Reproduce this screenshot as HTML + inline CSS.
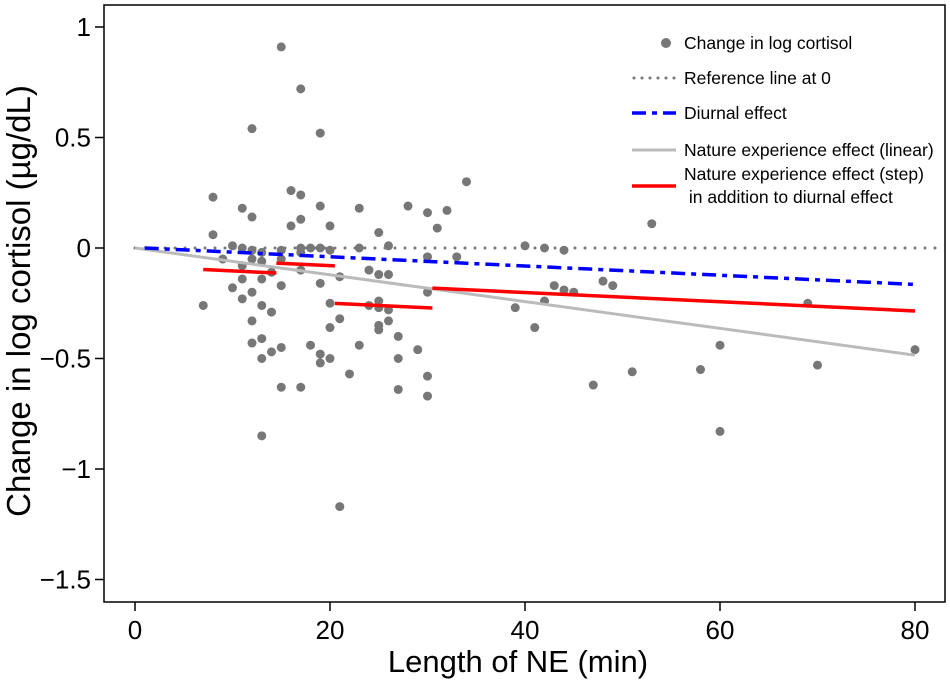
<!DOCTYPE html>
<html><head><meta charset="utf-8"><style>
body{margin:0;background:#fff;}
svg{display:block;font-family:"Liberation Sans",Arial,sans-serif;}
</style></head><body>
<svg id="chart" width="950" height="681"></svg>
<script>
const neLength=[15,17,12,19,8,11,12,16,17,17,16,19,20,8,10,11,12,13,15,17,17,18,19,20,
9,11,12,13,14,15,17,11,13,10,12,15,19,21,7,11,13,14,12,20,20,21,13,12,15,14,13,18,19,19,20,22,15,17,13,21,
34,23,28,30,32,31,25,23,26,30,33,24,25,26,30,24,25,25,26,26,25,25,27,23,29,27,30,27,30,
40,42,44,39,41,42,43,44,45,48,49,47,51,53,58,60,60,69,70,80];
const logChange=[0.91,0.72,0.54,0.52,0.23,0.18,0.14,0.26,0.24,0.13,0.10,0.19,0.10,0.06,0.01,0,-0.01,-0.02,-0.01,0,-0.02,0,0,-0.01,
-0.05,-0.08,-0.05,-0.06,-0.11,-0.05,-0.10,-0.14,-0.14,-0.18,-0.2,-0.17,-0.16,-0.13,-0.26,-0.23,-0.26,-0.29,-0.33,-0.25,-0.36,-0.32,-0.41,-0.43,-0.45,-0.47,-0.5,-0.44,-0.48,-0.52,-0.5,-0.57,-0.63,-0.63,-0.85,-1.17,
0.3,0.18,0.19,0.16,0.17,0.09,0.07,0,0.01,-0.04,-0.04,-0.1,-0.12,-0.12,-0.2,-0.26,-0.24,-0.27,-0.28,-0.33,-0.35,-0.37,-0.4,-0.44,-0.46,-0.5,-0.58,-0.64,-0.67,
0.01,0,-0.01,-0.27,-0.36,-0.24,-0.17,-0.19,-0.2,-0.15,-0.17,-0.62,-0.56,0.11,-0.55,-0.44,-0.83,-0.25,-0.53,-0.46];
const diurnalX=[1,80], diurnalY=[0,-0.165];
const linearX=[0,80], linearY=[0,-0.485];
const stepStart=[7,14.5,20.5,30.5], stepEnd=[14.5,20.5,30.5,80], stepLevel=[-0.085,-0.04,-0.21,-0.12];
const xTicks=[0,20,40,60,80];
const yTicks=[1,0.5,0,-0.5,-1,-1.5];
const yTickLabels=["1","0.5","0","\u22120.5","\u22121","\u22121.5"];

const NS="http://www.w3.org/2000/svg";
const svg=document.getElementById('chart');
const X=v=>135+v*9.75, Y=v=>248-v*221;
function mk(t,a,p){const e=document.createElementNS(NS,t);for(const k in a)e.setAttribute(k,a[k]);(p||svg).appendChild(e);return e;}
const dslope=(diurnalY[1]-diurnalY[0])/(diurnalX[1]-diurnalX[0]);
const dAt=x=>diurnalY[0]+dslope*(x-diurnalX[0]);

let frame=mk('rect',{x:104,y:5,width:841,height:597,fill:'none',stroke:'#000','stroke-width':1.5});



xTicks.forEach(t=>{
 let l=mk('line',{x1:X(t),x2:X(t),y1:602,y2:611,stroke:'#000','stroke-width':1.5});
 
 
 let tx=mk('text',{x:X(t),y:639,'font-size':26,'text-anchor':'middle'});tx.textContent=t;
 
 
});
yTicks.forEach((t,i)=>{
 let l=mk('line',{x1:95,x2:104,y1:Y(t),y2:Y(t),stroke:'#000','stroke-width':1.5});
 
 
 let tx=mk('text',{x:91,y:Y(t)+9,'font-size':26,'text-anchor':'end'});tx.textContent=yTickLabels[i];
 
 
});
let xt=mk('text',{x:518,y:672,'font-size':31,'text-anchor':'middle'});xt.textContent='Length of NE (min)';


let yt=mk('text',{x:0,y:0,'font-size':33,'text-anchor':'middle',transform:'translate(30,301) rotate(-90)'});yt.textContent='Change in log cortisol (\u00b5g/dL)';



let ref=mk('line',{x1:X(0),x2:944,y1:Y(0),y2:Y(0),stroke:'#777','stroke-width':3,'stroke-dasharray':'0 10','stroke-linecap':'round'});



neLength.forEach((x,i)=>{
 let c=mk('circle',{cx:X(x),cy:Y(logChange[i]),r:4.5,fill:'#777'});
 
 
});

let lin=mk('line',{x1:X(linearX[0]),y1:Y(linearY[0]),x2:X(linearX[1]),y2:Y(linearY[1]),stroke:'#bbb','stroke-width':3});


let di=mk('line',{x1:X(diurnalX[0]),y1:Y(diurnalY[0]),x2:X(diurnalX[1]),y2:Y(diurnalY[1]),stroke:'#00f','stroke-width':3.5,'stroke-dasharray':'14 6 5 6'});


stepStart.forEach((s,i)=>{
 const e=stepEnd[i];
 let l=mk('line',{x1:X(s),y1:Y(stepLevel[i]+dAt(s)),x2:X(e),y2:Y(stepLevel[i]+dAt(e)),stroke:'#f00','stroke-width':3.5});
 
 
});

const lg=mk('g',{});


mk('circle',{cx:666,cy:43,r:5,fill:'#777'},lg);
mk('line',{x1:634,x2:676,y1:78,y2:78,stroke:'#777','stroke-width':3,'stroke-dasharray':'0 8','stroke-linecap':'round'},lg);
mk('line',{x1:632,x2:676,y1:113,y2:113,stroke:'#00f','stroke-width':3.5,'stroke-dasharray':'14 6 5 6'},lg);
mk('line',{x1:632,x2:676,y1:150,y2:150,stroke:'#bbb','stroke-width':3},lg);
mk('line',{x1:632,x2:676,y1:186,y2:186,stroke:'#f00','stroke-width':3.5},lg);
[['Change in log cortisol',49],['Reference line at 0',84],['Diurnal effect',119],['Nature experience effect (linear)',156],['Nature experience effect (step)',180],['\u00a0in addition to diurnal effect',203]].forEach(a=>{
 let t=mk('text',{x:684,y:a[1],'font-size':17.5},lg);t.textContent=a[0];
 
 
});
</script>
</body></html>
